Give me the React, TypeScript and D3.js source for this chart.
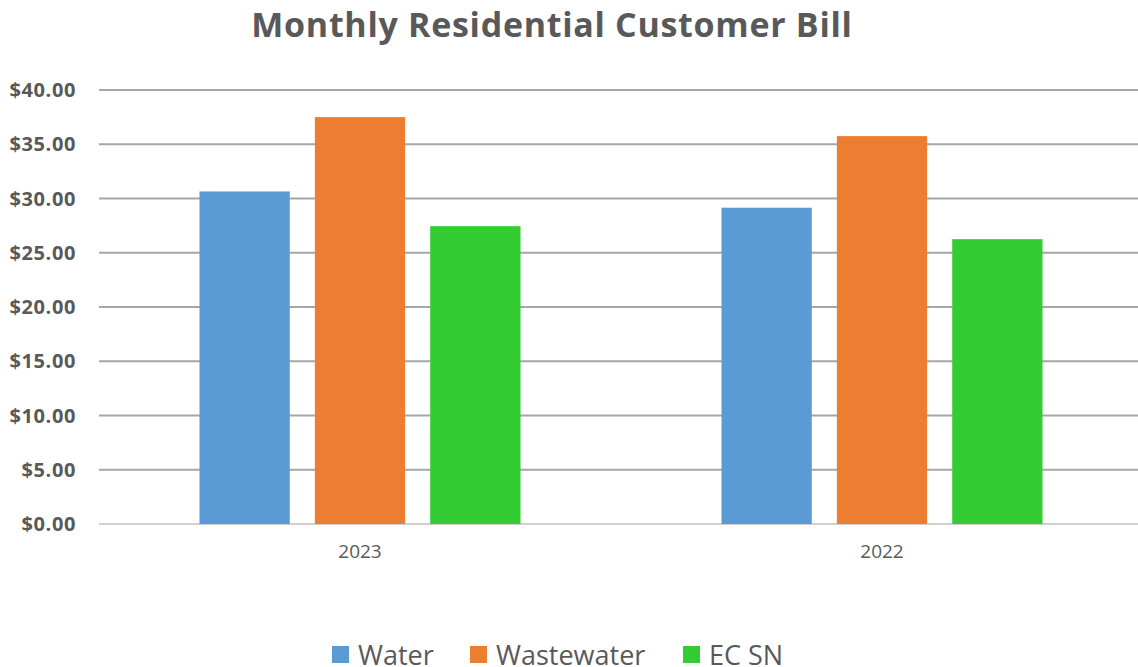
import React from "react";
import * as d3 from "d3";

const categories = ["2023", "2022"];
const seriesNames = ["Water", "Wastewater", "EC SN"];
const water = [30.65, 29.15];
const wastewater = [37.5, 35.75];
const ecsn = [27.45, 26.25];
const yTicks = [0, 5, 10, 15, 20, 25, 30, 35, 40];
const colors = ["#5B9BD5", "#ED7D31", "#33CC33"];

const W = 1138;
const H = 667;

export default function App() {
  const values = [water, wastewater, ecsn];
  const y = d3.scaleLinear().domain([0, 40]).range([524, 90]);
  const x0 = d3.scaleBand<string>().domain(categories).range([99, 1143]).padding(0);
  const bw = x0.bandwidth();
  const x1 = d3
    .scaleBand<string>()
    .domain(seriesNames)
    .range([bw / 2 - 160.5, bw / 2 + 160.5])
    .paddingInner(0.2174)
    .paddingOuter(0);
  const fmt = (v: number) => "$" + d3.format(".2f")(v);
  const font = "'Open Sans', 'Noto Sans', sans-serif";
  const legendX = [332, 470, 683];

  return (
    <svg
      width={W}
      height={H}
      style={{ position: "absolute", left: 0, top: 0, background: "#fff" }}
      fontFamily={font}
    >
      <text
        x={552}
        y={37}
        textAnchor="middle"
        fontSize={34}
        fontWeight={700}
        fill="#595959"
        letterSpacing={0.7}
      >
        Monthly Residential Customer Bill
      </text>
      {yTicks.map((t) => (
        <g key={t}>
          <line
            x1={99}
            x2={W}
            y1={y(t)}
            y2={y(t)}
            stroke={t === 0 ? "#d0d0d0" : "#a6a6a6"}
            strokeWidth={2}
          />
          <text
            x={76}
            y={y(t) + 7}
            textAnchor="end"
            fontSize={20}
            fontWeight={700}
            fill="#595959"
            letterSpacing={0.6}
          >
            {fmt(t)}
          </text>
        </g>
      ))}
      {categories.map((c, ci) => (
        <g key={c} transform={`translate(${x0(c)},0)`}>
          {seriesNames.map((s, si) => (
            <rect
              key={s}
              x={x1(s)}
              y={y(values[si][ci])}
              width={x1.bandwidth()}
              height={y(0) - y(values[si][ci])}
              fill={colors[si]}
            />
          ))}
          <text x={bw / 2} y={558} textAnchor="middle" fontSize={19} fill="#595959">
            {c}
          </text>
        </g>
      ))}
      {seriesNames.map((s, si) => (
        <g key={s}>
          <rect x={legendX[si]} y={646} width={17} height={17} fill={colors[si]} />
          <text x={legendX[si] + 26} y={665} fontSize={27} fill="#595959">
            {s}
          </text>
        </g>
      ))}
    </svg>
  );
}
